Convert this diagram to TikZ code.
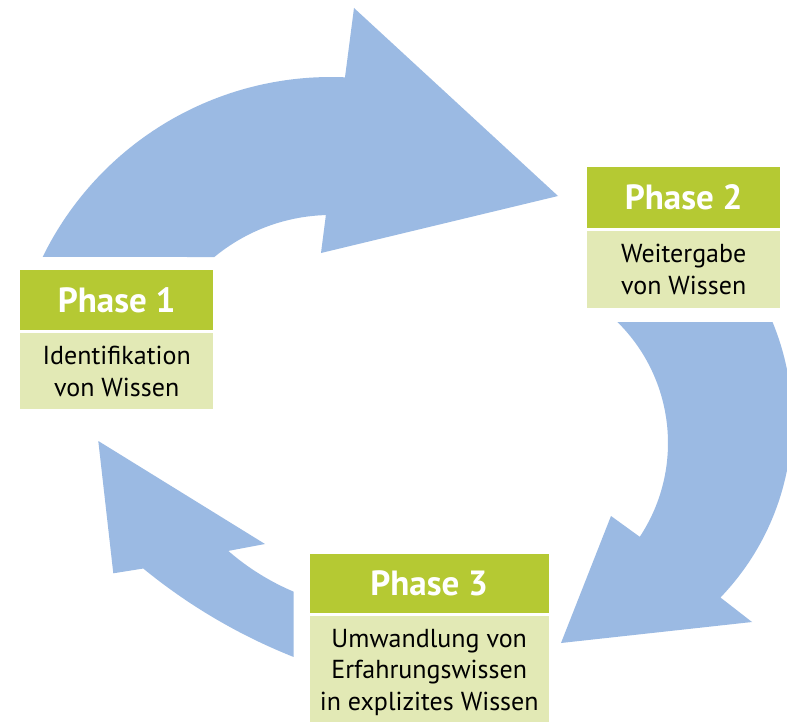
\documentclass[tikz,border=0pt]{standalone}
\usepackage{fontspec}
\setmainfont{PT Sans}
\usetikzlibrary{calc}
\definecolor{arrowblue}{RGB}{155,186,227}
\definecolor{hdrgreen}{RGB}{181,201,51}
\definecolor{bodygreen}{RGB}{226,233,181}
\tikzset{
  cyclearrow/.style={fill=arrowblue, draw=none},
  hdrbox/.style={fill=hdrgreen, draw=none, text=white, inner sep=0pt, anchor=north west,
    font=\fontsize{35}{38}\selectfont\bfseries},
  bodybox/.style={fill=bodygreen, draw=none, text=black, inner sep=0pt, anchor=north west,
    align=center, font=\fontsize{26}{31.5}\selectfont},
}
\begin{document}
\begin{tikzpicture}[x=1pt,y=-1pt]
\clip (0,0) rectangle (787,722);
\fill[white] (0,0) rectangle (787,722);
% top arrow (Phase 1 -> Phase 2)
\fill[cyclearrow] ($(331,398)+(-153.94:321)$) arc[start angle=-153.94, end angle=-87.5, radius=321]
  -- (354,8) -- (558,196) -- (321,253)
  -- ($(331,398)+(-91.6:183)$) arc[start angle=-91.6, end angle=-129.6, radius=183] -- cycle;
% right arrow (Phase 2 -> Phase 3)
\fill[cyclearrow] ($(536,420)+(-22.5:256)$) arc[start angle=-22.5, end angle=43.9, radius=256]
  -- (752,622) -- (561,643) -- (611,516)
  -- ($(498,443)+(33.5:170)$) arc[start angle=33.5, end angle=-45.38, radius=170] -- cycle;
% left arrow (Phase 3 -> Phase 1)
\fill[cyclearrow] ($(503,129)+(111.64:568)$) arc[start angle=111.64, end angle=129.3, radius=568]
  -- (113.3,573.3) -- (98.3,441) -- (265,544)
  -- ($(389,366)+(131.0:245)$) arc[start angle=131.0, end angle=112.94, radius=245] -- cycle;
% Phase 1
\node[hdrbox, minimum width=193pt, minimum height=60pt] (h1) at (20,270) {Phase 1};
\node[bodybox, minimum width=193pt, minimum height=76pt] (b1) at (20,333) {Identifikation\\von Wissen};
% Phase 2
\node[hdrbox, minimum width=193pt, minimum height=61pt] (h2) at (587,167) {Phase 2};
\node[bodybox, minimum width=193pt, minimum height=77pt] (b2) at (587,231) {Weitergabe\\von Wissen};
% Phase 3
\node[hdrbox, minimum width=239pt, minimum height=59pt] (h3) at (309.5,554) {Phase 3};
\node[bodybox, minimum width=239pt, minimum height=112pt] (b3) at (309.5,616) {Umwandlung von\\Erfahrungswissen\\in explizites Wissen};
\end{tikzpicture}
\end{document}
